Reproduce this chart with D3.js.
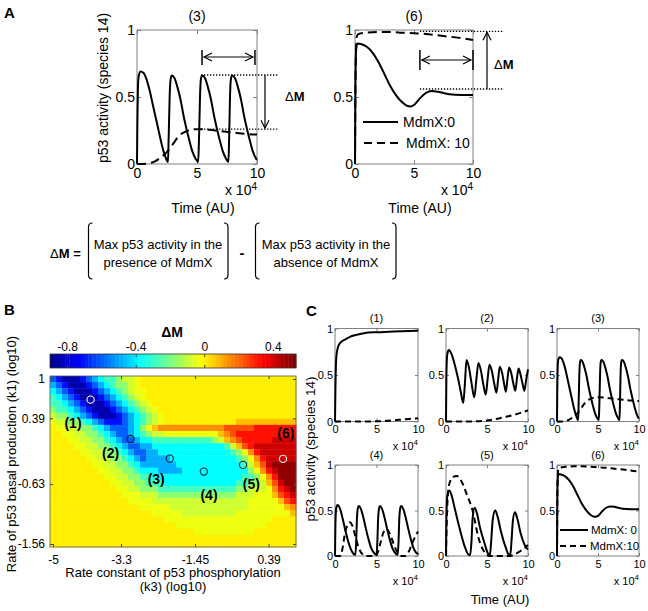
<!DOCTYPE html>
<html>
<head>
<meta charset="utf-8">
<script src="https://cdn.jsdelivr.net/npm/d3@7"></script>
<style>
html,body{margin:0;padding:0;background:#fff;}
svg{display:block;}
</style>
</head>
<body>
<svg id="fig" width="648" height="611" xmlns="http://www.w3.org/2000/svg"></svg>
<script>
// ================= DATA =================
const timeTicks = [0, 5, 10];
const activityTicks = [0, 0.5, 1];
const panelTitles = ["(1)", "(2)", "(3)", "(4)", "(5)", "(6)"];
const legendA = ["MdmX:0", "MdmX: 10"];
const legendC = ["MdmX: 0", "MdmX:10"];

// time in units of 10^4 AU, p53 activity (species 14); solid = MdmX 0, dashed = MdmX 10
const solid1 = [[0,0],[0.05,0.35],[0.15,0.68],[0.3,0.78],[0.5,0.83],[0.8,0.86],[1.2,0.88],[1.8,0.91],[2.5,0.93],[3.5,0.95],[5,0.96],[6.5,0.965],[8,0.97],[10,0.975]];
const dashed1 = [[0,0],[3,0],[5,0.002],[6,0.006],[7,0.012],[8,0.02],[9,0.028],[10,0.035]];

const solid2 = [[0,0],[0.05,0.5],[0.15,0.72],[0.35,0.77],[0.7,0.72],[1.1,0.6],[1.5,0.45],[1.8,0.32],[2.1,0.2],[2.3,0.4],[2.5,0.66],[2.8,0.58],[3.1,0.42],[3.45,0.26],[3.7,0.45],[3.95,0.63],[4.25,0.55],[4.55,0.4],[4.85,0.29],[5.08,0.46],[5.3,0.61],[5.6,0.54],[5.9,0.4],[6.15,0.31],[6.37,0.46],[6.55,0.59],[6.85,0.52],[7.1,0.4],[7.3,0.32],[7.5,0.46],[7.7,0.58],[7.98,0.51],[8.23,0.4],[8.45,0.33],[8.65,0.46],[8.85,0.57],[9.1,0.5],[9.35,0.4],[9.55,0.33],[9.78,0.45],[10,0.56]];
const dashed2 = [[0,0],[3,0],[4,0.003],[5,0.01],[6,0.025],[7,0.045],[8,0.065],[9,0.09],[10,0.12]];

const solid3 = [[0,0],[0.03,0.3],[0.08,0.58],[0.15,0.66],[0.3,0.69],[0.55,0.68],[0.8,0.63],[1.05,0.55],[1.3,0.45],[1.55,0.35],[1.8,0.25],[2.05,0.15],[2.3,0.07],[2.5,0.025],[2.58,0.015],[2.64,0.2],[2.72,0.5],[2.8,0.63],[2.9,0.66],[3.13,0.64],[3.38,0.57],[3.63,0.48],[3.88,0.36],[4.13,0.26],[4.38,0.17],[4.63,0.09],[4.88,0.04],[5.1,0.015],[5.17,0.2],[5.25,0.5],[5.32,0.63],[5.42,0.66],[5.67,0.64],[5.92,0.57],[6.17,0.48],[6.42,0.36],[6.67,0.26],[6.92,0.17],[7.17,0.09],[7.42,0.04],[7.62,0.015],[7.68,0.2],[7.75,0.5],[7.82,0.63],[7.92,0.66],[8.17,0.64],[8.42,0.57],[8.67,0.48],[8.92,0.36],[9.17,0.26],[9.42,0.17],[9.67,0.09],[9.92,0.04],[10,0.03]];
const dashed3 = [[0,0],[0.5,0],[1.0,0.005],[1.5,0.02],[2.0,0.05],[2.5,0.09],[3.0,0.15],[3.5,0.21],[4.0,0.24],[4.5,0.255],[5,0.26],[6,0.255],[7,0.245],[8,0.235],[9,0.225],[10,0.22]];

const solid4 = [[0,0],[0.05,0.35],[0.15,0.53],[0.32,0.56],[0.6,0.52],[0.9,0.42],[1.2,0.3],[1.5,0.19],[1.8,0.1],[2.1,0.04],[2.45,0.01],[2.55,0.15],[2.65,0.42],[2.75,0.52],[2.88,0.55],[3.15,0.51],[3.45,0.41],[3.75,0.29],[4.05,0.18],[4.35,0.09],[4.65,0.04],[5.0,0.01],[5.1,0.15],[5.2,0.42],[5.3,0.52],[5.42,0.55],[5.7,0.51],[6.0,0.41],[6.3,0.29],[6.6,0.18],[6.9,0.09],[7.2,0.04],[7.55,0.01],[7.65,0.15],[7.75,0.42],[7.85,0.52],[7.97,0.55],[8.25,0.51],[8.55,0.41],[8.85,0.29],[9.15,0.18],[9.45,0.09],[9.75,0.04],[10,0.02]];
const dashed4 = [[0,0],[0.6,0],[0.9,0.08],[1.2,0.25],[1.5,0.34],[1.8,0.37],[2.1,0.33],[2.5,0.2],[2.9,0.08],[3.3,0.02],[3.7,0],[4.9,0],[5.2,0.05],[5.5,0.15],[5.8,0.25],[6.1,0.3],[6.4,0.28],[6.8,0.2],[7.2,0.1],[7.6,0.03],[8.0,0],[8.5,0],[8.9,0.05],[9.3,0.14],[9.7,0.22],[10,0.27]];

const solid5 = [[0,0],[0.05,0.4],[0.15,0.65],[0.4,0.72],[0.7,0.66],[1.1,0.51],[1.7,0.29],[2.3,0.1],[2.7,0.02],[2.95,0.01],[3.1,0.15],[3.25,0.42],[3.5,0.53],[3.8,0.46],[4.1,0.33],[4.7,0.14],[5.1,0.03],[5.35,0.01],[5.5,0.15],[5.7,0.4],[6.0,0.5],[6.3,0.43],[6.7,0.27],[7.3,0.09],[7.65,0.015],[7.85,0.02],[8.0,0.18],[8.15,0.38],[8.4,0.48],[8.7,0.41],[9.1,0.25],[9.6,0.12],[10,0.07]];
const dashed5 = [[0,0],[0.1,0.4],[0.25,0.7],[0.5,0.82],[0.9,0.87],[1.3,0.88],[1.7,0.85],[2.1,0.78],[2.6,0.66],[3.0,0.57],[3.3,0.48],[3.6,0.35],[3.9,0.22],[4.3,0.11],[4.8,0.03],[5.3,0],[7.8,0],[8.4,0.02],[9.0,0.05],[9.5,0.08],[10,0.12]];

const solid6 = [[0,0],[0.04,0.6],[0.1,0.86],[0.2,0.9],[0.5,0.895],[1.0,0.875],[1.5,0.83],[2.0,0.76],[2.5,0.67],[3.0,0.58],[3.5,0.51],[4.0,0.46],[4.4,0.435],[4.7,0.43],[5.0,0.44],[5.5,0.49],[6.0,0.53],[6.5,0.545],[7.0,0.54],[7.5,0.53],[8.0,0.52],[9.0,0.515],[10,0.515]];
const dashed6 = [[0,0],[0.05,0.7],[0.15,0.95],[0.3,0.97],[1,0.98],[2,0.985],[3,0.985],[4,0.98],[5,0.975],[6,0.97],[7,0.96],[8,0.95],[9,0.94],[10,0.925]];

// Delta-M annotation values (panel A)
const annot3 = {t0: 5.42, t1: 9.83, hi: 0.664, lo: 0.26};
const annot6 = {t0: 5.5, t1: 10, hi: 0.99, lo: 0.56};

// Heat map (panel B)
const k3Ticks = [-5, -3.3, -1.45, 0.39];
const k1Ticks = [1, 0.39, -0.63, -1.56];
const colorbarTicks = [-0.8, -0.4, 0, 0.4];
const colorbarRange = [-0.9, 0.535];
const gridCols = 41, gridRows = 28;
const dmCodes  = "abcdefghi.jklmno";
const dmLevels = [-0.85,-0.72,-0.6,-0.48,-0.38,-0.28,-0.18,-0.09,-0.03,0,0.07,0.15,0.24,0.33,0.42,0.5];
// run-length coded rows (top row = k1 = 1), padded with 0 ('.') on the right
const dmRowsRLE = [
  "cb3abcde2fg2hi",
  "dcb3abcdef2ghi",
  "edcb3abcdefgh2i",
  "fedcb3abcdefghi",
  "2fedcb3abcdefghi",
  "g2fedcb3abcdefghi",
  "h2gfedcb3abcdefghi",
  "i2h2gfedc3bcdefghi12.10j",
  ".2i2h2gfed3cdegij11k5l7m",
  "2.2i2h2gfed2cdefg2h9ijkl10m",
  "3.2i2h2gfed2cd2e10fghjkl5m4n",
  "4.2i2h2gfed2c2d12efhjlm7n",
  "5.2i2h2gfed2c2d12efgikm6n",
  "6.2i2h2gfedc4d11efgikm5n",
  "7.2i2h2gfe6d11efhjln4o",
  "8.2i2h2gf3e4d11egikmn3o",
  "9.2i2h2g2f15e2fgikm3o",
  "10.2i2h2g3f12e2f2ghjln2o",
  "11.2i2h3g13f2g3hikmno",
  "12.3i3h13g3h3ijlmn",
  "13.4i16h5ijlm",
  "15.5i13h6ijk",
  "17.5i9h9ij",
  "19.18i",
  "21.15i",
  "24.10i",
  "",
  ""
];
const markerK3 = [-4.06, -3.06, -2.08, -1.23, -0.25, 0.75];
const markerK1 = [0.68, 0.07, -0.236, -0.437, -0.333, -0.24];
const markerLabelK3 = [-4.5, -3.56, -2.42, -1.1, -0.04, 0.82];
const markerLabelK1 = [0.313, -0.152, -0.55, -0.794, -0.628, 0.158];
const markerLight = [true, false, false, false, false, true];

// ================= DRAWING =================
const FONT = "'Liberation Sans', Arial, Helvetica, sans-serif";
const svg = d3.select("#fig");
const BOX = "#808080";

function txt(g, x, y, s, size, opts = {}) {
  return g.append("text").attr("x", x).attr("y", y).text(s)
    .attr("font-family", FONT).attr("font-size", size)
    .attr("font-weight", opts.bold ? "bold" : null)
    .attr("text-anchor", opts.anchor || "start")
    .attr("fill", "#000");
}

function arrowLine(g, x1, y1, x2, y2, headStart, headEnd) {
  g.append("line").attr("x1", x1).attr("y1", y1).attr("x2", x2).attr("y2", y2)
    .attr("stroke", "#000").attr("stroke-width", 1.2);
  const L = 8, W = 4;
  const head = (tx, ty, fx, fy) => {
    const dx = tx - fx, dy = ty - fy, len = Math.hypot(dx, dy), ux = dx / len, uy = dy / len;
    const bx = tx - ux * L, by = ty - uy * L;
    g.append("polyline").attr("points", `${bx - uy * W},${by + ux * W} ${tx},${ty} ${bx + uy * W},${by - ux * W}`)
      .attr("fill", "none").attr("stroke", "#000").attr("stroke-width", 1.2);
  };
  if (headEnd) head(x2, y2, x1, y1);
  if (headStart) head(x1, y1, x2, y2);
}

function deltaM(g, x, y, size, anchor) {
  const t = g.append("text").attr("x", x).attr("y", y).attr("font-family", FONT)
    .attr("font-size", size).attr("text-anchor", anchor || "start");
  t.append("tspan").text("\u0394");
  t.append("tspan").attr("font-weight", "bold").text("M");
  return t;
}

function tsPanel(cfg) {
  const g = svg.append("g");
  const x = d3.scaleLinear().domain([0, 10]).range([cfg.x0, cfg.x1]);
  const y = d3.scaleLinear().domain([0, 1]).range([cfg.y1, cfg.y0]);
  const tk = cfg.tk;
  g.append("g").attr("transform", `translate(0,${cfg.y1})`)
    .call(d3.axisBottom(x).tickValues(timeTicks).tickSizeInner(-tk).tickSizeOuter(0).tickPadding(cfg.xpad).tickFormat(d3.format("d")));
  g.append("g").attr("transform", `translate(${cfg.x0},0)`)
    .call(d3.axisLeft(y).tickValues(activityTicks).tickSizeInner(-tk).tickSizeOuter(0).tickPadding(cfg.ypad).tickFormat(d => String(d)));
  g.append("g").attr("transform", `translate(0,${cfg.y0})`)
    .call(d3.axisTop(x).tickValues(timeTicks).tickSizeInner(-tk).tickSizeOuter(0).tickFormat(""));
  g.append("g").attr("transform", `translate(${cfg.x1},0)`)
    .call(d3.axisRight(y).tickValues(activityTicks).tickSizeInner(-tk).tickSizeOuter(0).tickFormat(""));
  g.selectAll(".domain").remove();
  g.selectAll(".tick line").attr("stroke", BOX);
  g.selectAll(".tick text").attr("font-size", cfg.fs).attr("font-family", FONT).attr("fill", "#000");
  g.append("rect").attr("x", cfg.x0).attr("y", cfg.y0).attr("width", cfg.x1 - cfg.x0).attr("height", cfg.y1 - cfg.y0)
    .attr("fill", "none").attr("stroke", BOX).attr("stroke-width", 1);
  const line = d3.line().x(d => x(d[0])).y(d => y(d[1])).curve(d3.curveMonotoneX);
  g.append("path").datum(cfg.dashed).attr("d", line).attr("fill", "none").attr("stroke", "#000")
    .attr("stroke-width", cfg.lw).attr("stroke-dasharray", cfg.dash);
  g.append("path").datum(cfg.solid).attr("d", line).attr("fill", "none").attr("stroke", "#000")
    .attr("stroke-width", cfg.lw).attr("stroke-linejoin", "round");
  txt(g, (cfg.x0 + cfg.x1) / 2, cfg.y0 - cfg.titleOff, cfg.title, cfg.fs, {anchor: "middle"});
  const e = g.append("text").attr("x", cfg.x1).attr("y", cfg.y1 + cfg.expOff).attr("font-family", FONT)
    .attr("font-size", cfg.fs).attr("text-anchor", "end");
  e.append("tspan").text("x 10");
  e.append("tspan").attr("font-size", cfg.supFs).attr("dy", -cfg.supDy).text("4");
  return {g, x, y};
}

// ---------- Panel A ----------
txt(svg, 4, 18, "A", 15, {bold: true});
const pA3 = tsPanel({x0: 137, x1: 257, y0: 30, y1: 164, fs: 14, tk: 4, xpad: 4, ypad: 2, lw: 2, dash: "9,5",
  title: panelTitles[2], titleOff: 9.5, expOff: 31, supFs: 10, supDy: 5, solid: solid3, dashed: dashed3});
const pA6 = tsPanel({x0: 355, x1: 473, y0: 30, y1: 164, fs: 14, tk: 4, xpad: 4, ypad: 2, lw: 2, dash: "9,5",
  title: panelTitles[5], titleOff: 9.5, expOff: 31, supFs: 10, supDy: 5, solid: solid6, dashed: dashed6});
txt(svg, 203, 213, "Time (AU)", 14, {anchor: "middle"});
txt(svg, 420, 213, "Time (AU)", 14, {anchor: "middle"});
svg.append("text").attr("transform", "translate(108,88) rotate(-90)").attr("text-anchor", "middle")
  .attr("font-family", FONT).attr("font-size", 14).text("p53 activity (species 14)");

// legend in A(6)
{
  const g = pA6.g;
  g.append("line").attr("x1", 363).attr("x2", 398).attr("y1", 122).attr("y2", 122).attr("stroke", "#000").attr("stroke-width", 2);
  g.append("line").attr("x1", 364).attr("x2", 398).attr("y1", 143).attr("y2", 143).attr("stroke", "#000").attr("stroke-width", 2).attr("stroke-dasharray", "8,5");
  txt(g, 403, 127, legendA[0], 14);
  txt(g, 406, 148, legendA[1], 14);
}

// annotations A(3)
{
  const g = pA3.g, x = pA3.x, y = pA3.y;
  const xa = x(annot3.t0), xb = x(annot3.t1);
  g.append("line").attr("x1", xa).attr("x2", xa).attr("y1", 50).attr("y2", 65).attr("stroke", "#000").attr("stroke-width", 1.5);
  g.append("line").attr("x1", xb).attr("x2", xb).attr("y1", 50).attr("y2", 65).attr("stroke", "#000").attr("stroke-width", 1.5);
  arrowLine(g, xa + 2, 57, xb - 2, 57, true, true);
  [annot3.hi, annot3.lo].forEach(v => {
    g.append("line").attr("x1", xa - 1).attr("x2", 279).attr("y1", y(v)).attr("y2", y(v))
      .attr("stroke", "#000").attr("stroke-width", 1.4).attr("stroke-dasharray", "1.3,1.7");
  });
  arrowLine(g, 265, y(annot3.hi), 265, y(annot3.lo) - 1, false, true);
  deltaM(g, 285, 101, 13);
}
// annotations A(6)
{
  const g = pA6.g, x = pA6.x, y = pA6.y;
  const xa = x(annot6.t0), xb = x(annot6.t1);
  g.append("line").attr("x1", xa).attr("x2", xa).attr("y1", 50).attr("y2", 70).attr("stroke", "#000").attr("stroke-width", 1.5);
  g.append("line").attr("x1", xb).attr("x2", xb).attr("y1", 50).attr("y2", 70).attr("stroke", "#000").attr("stroke-width", 1.5);
  arrowLine(g, xa + 2, 60, xb - 2, 60, true, true);
  [annot6.hi, annot6.lo].forEach(v => {
    g.append("line").attr("x1", xa).attr("x2", 504).attr("y1", y(v)).attr("y2", y(v))
      .attr("stroke", "#000").attr("stroke-width", 1.4).attr("stroke-dasharray", "1.3,1.7");
  });
  arrowLine(g, 487, y(annot6.lo), 487, y(annot6.hi) + 1, false, true);
  deltaM(g, 494, 69, 13);
}

// ---------- Equation ----------
{
  const g = svg.append("g");
  const t = g.append("text").attr("x", 50).attr("y", 258).attr("font-family", FONT).attr("font-size", 13);
  t.append("tspan").text("\u0394");
  t.append("tspan").attr("font-weight", "bold").text("M =");
  const bracket = (x, y0, y1, dir) => g.append("path")
    .attr("d", `M${x + dir * 4},${y0} Q${x},${y0} ${x},${y0 + 4} L${x},${y1 - 4} Q${x},${y1} ${x + dir * 4},${y1}`)
    .attr("fill", "none").attr("stroke", "#000").attr("stroke-width", 1.2);
  bracket(88.5, 223, 279, 1); bracket(228, 223, 279, -1);
  bracket(255.5, 223, 279, 1); bracket(396, 223, 279, -1);
  txt(g, 158, 249, "Max p53 activity in the", 13, {anchor: "middle"});
  txt(g, 158, 267, "presence of MdmX", 13, {anchor: "middle"});
  txt(g, 326, 249, "Max p53 activity in the", 13, {anchor: "middle"});
  txt(g, 326, 267, "absence of MdmX", 13, {anchor: "middle"});
  txt(g, 242, 258, "-", 15, {anchor: "middle", bold: true});
}

// ---------- Panel B ----------
txt(svg, 4, 315, "B", 15, {bold: true});
// MATLAB jet(64)
const JET = (() => {
  const n = 16, u = [];
  for (let i = 1; i <= n; i++) u.push(i / n);
  for (let i = 0; i < n - 1; i++) u.push(1);
  for (let i = n; i >= 1; i--) u.push(i / n);
  const J = Array.from({length: 64}, () => [0, 0, 0]);
  u.forEach((v, j) => {
    const gI = 9 + j, rI = gI + n, bI = gI - n;
    if (rI <= 64) J[rI - 1][0] = v;
    if (gI <= 64) J[gI - 1][1] = v;
    if (bI >= 1) J[bI - 1][2] = v;
  });
  return J.map(c => d3.rgb(c[0] * 255, c[1] * 255, c[2] * 255).formatHex());
})();
const cmap = v => {
  const t = (v - colorbarRange[0]) / (colorbarRange[1] - colorbarRange[0]);
  return JET[Math.max(0, Math.min(63, Math.floor(t * 64)))];
};
const dmGrid = dmRowsRLE.map(r => {
  let s = "";
  for (const m of r.matchAll(/(\d*)(\D)/g)) s += m[2].repeat(m[1] ? +m[1] : 1);
  return s.padEnd(gridCols, ".").slice(0, gridCols).split("").map(ch => dmLevels[dmCodes.indexOf(ch)]);
});

{
  const g = svg.append("g");
  // colorbar
  const cb = d3.scaleLinear().domain(colorbarRange).range([50, 296]);
  const steps = d3.range(64);
  const stepW = (colorbarRange[1] - colorbarRange[0]) / 64;
  g.selectAll("rect.cb").data(steps).join("rect").attr("class", "cb")
    .attr("x", i => cb(colorbarRange[0] + i * stepW)).attr("y", 354)
    .attr("width", i => cb(colorbarRange[0] + (i + 1) * stepW) - cb(colorbarRange[0] + i * stepW) + 0.4)
    .attr("height", 14).attr("fill", i => JET[i]);
  g.append("rect").attr("x", 50).attr("y", 354).attr("width", 246).attr("height", 14)
    .attr("fill", "none").attr("stroke", "#333").attr("stroke-width", 0.8);
  g.append("g").attr("transform", "translate(0,354)")
    .call(d3.axisTop(cb).tickValues(colorbarTicks).tickSizeInner(-3).tickSizeOuter(0).tickPadding(3).tickFormat(d => String(d)));
  g.append("g").attr("transform", "translate(0,368)")
    .call(d3.axisBottom(cb).tickValues(colorbarTicks).tickSizeInner(-3).tickSizeOuter(0).tickFormat(""));
  deltaM(g, 172, 337, 14, "middle").attr("font-weight", "bold");

  // heat map cells
  const colB = d3.scaleBand().domain(d3.range(gridCols)).range([50, 296]);
  const rowB = d3.scaleBand().domain(d3.range(gridRows)).range([376, 547]);
  const cells = [];
  dmGrid.forEach((row, r) => row.forEach((v, c) => cells.push({r, c, v})));
  g.selectAll("rect.cell").data(cells).join("rect").attr("class", "cell")
    .attr("x", d => colB(d.c)).attr("y", d => rowB(d.r))
    .attr("width", colB.bandwidth() + 0.4).attr("height", rowB.bandwidth() + 0.4)
    .attr("fill", d => cmap(d.v));
  g.append("rect").attr("x", 50).attr("y", 376).attr("width", 246).attr("height", 171)
    .attr("fill", "none").attr("stroke", "#555").attr("stroke-width", 0.8);

  const hx = d3.scaleLinear().domain([-5, 1]).range([53, 293]);
  const hy = d3.scaleLinear().domain([-1.56, 1]).range([544, 379]);
  g.append("g").attr("transform", "translate(0,547)")
    .call(d3.axisBottom(hx).tickValues(k3Ticks).tickSizeInner(-3).tickSizeOuter(0).tickPadding(8).tickFormat(d => String(d)));
  g.append("g").attr("transform", "translate(50,0)")
    .call(d3.axisLeft(hy).tickValues(k1Ticks).tickSizeInner(-3).tickSizeOuter(0).tickPadding(5).tickFormat(d => String(d)));
  g.append("g").attr("transform", "translate(0,376)")
    .call(d3.axisTop(hx).tickValues(k3Ticks).tickSizeInner(-3).tickSizeOuter(0).tickFormat(""));
  g.append("g").attr("transform", "translate(296,0)")
    .call(d3.axisRight(hy).tickValues(k1Ticks).tickSizeInner(-3).tickSizeOuter(0).tickFormat(""));
  g.selectAll(".domain").remove();
  g.selectAll(".tick line").attr("stroke", "#444");
  g.selectAll(".tick text").attr("font-size", 12).attr("font-family", FONT).attr("fill", "#000");

  // markers
  markerK3.forEach((k3, i) => {
    g.append("circle").attr("cx", hx(k3)).attr("cy", hy(markerK1[i])).attr("r", 3.6)
      .attr("fill", "none").attr("stroke", markerLight[i] ? "#fff" : "#0d2030").attr("stroke-width", 1.1);
    txt(g, hx(markerLabelK3[i]), hy(markerLabelK1[i]) + 5, panelTitles[i], 14, {anchor: "middle", bold: true});
  });

  txt(g, 173, 577, "Rate constant of p53 phosphorylation", 13, {anchor: "middle"});
  txt(g, 173, 591, "(k3) (log10)", 13, {anchor: "middle"});
  g.append("text").attr("transform", "translate(16,454) rotate(-90)").attr("text-anchor", "middle")
    .attr("font-family", FONT).attr("font-size", 13).text("Rate of p53 basal production (k1) (log10)");
}

// ---------- Panel C ----------
txt(svg, 306, 316, "C", 15, {bold: true});
const colX = [[335, 418], [446, 528], [557, 639]];
const rowY = [[328.5, 421.5], [465, 556]];
const solids = [solid1, solid2, solid3, solid4, solid5, solid6];
const dasheds = [dashed1, dashed2, dashed3, dashed4, dashed5, dashed6];
const cPanels = [];
for (let i = 0; i < 6; i++) {
  const r = Math.floor(i / 3), c = i % 3;
  cPanels.push(tsPanel({x0: colX[c][0], x1: colX[c][1], y0: rowY[r][0], y1: rowY[r][1], fs: 11, tk: 3,
    xpad: 4, ypad: 2, lw: 2, dash: "6,4", title: panelTitles[i], titleOff: 6.5, expOff: 28.5,
    supFs: 8, supDy: 5, solid: solids[i], dashed: dasheds[i]}));
}
{
  const g = cPanels[5].g;
  g.append("line").attr("x1", 560).attr("x2", 588).attr("y1", 530).attr("y2", 530).attr("stroke", "#000").attr("stroke-width", 2);
  g.append("line").attr("x1", 560).attr("x2", 588).attr("y1", 546).attr("y2", 546).attr("stroke", "#000").attr("stroke-width", 2).attr("stroke-dasharray", "6,4");
  txt(g, 591, 534, legendC[0], 11.5);
  txt(g, 590, 550, legendC[1], 11.5);
}
txt(svg, 500, 604, "Time (AU)", 13, {anchor: "middle"});
svg.append("text").attr("transform", "translate(315,449) rotate(-90)").attr("text-anchor", "middle")
  .attr("font-family", FONT).attr("font-size", 13.5).text("p53 activity (species 14)");
</script>
</body>
</html>
